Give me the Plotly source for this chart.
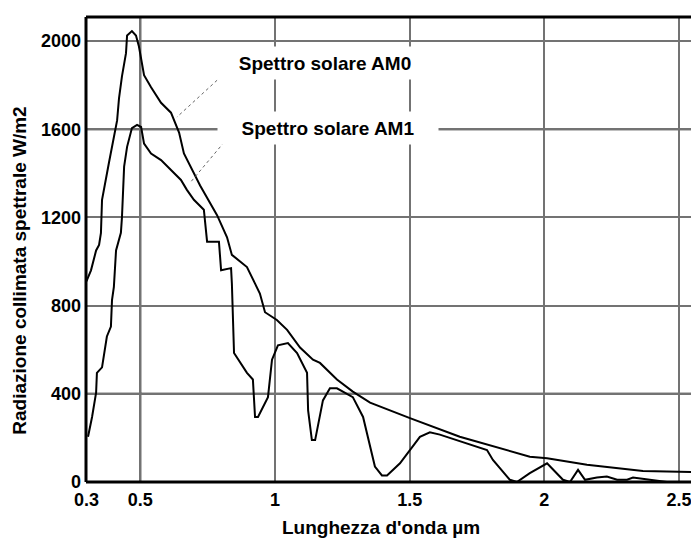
import plotly.graph_objects as go

# ---------------- data ----------------
wl_am0 = [0.300, 0.317, 0.336, 0.347, 0.354, 0.358, 0.384, 0.414, 0.421, 0.432,
          0.447, 0.451, 0.469, 0.484, 0.495, 0.506, 0.514, 0.540, 0.577, 0.614,
          0.644, 0.662, 0.692, 0.722, 0.785, 0.822, 0.840, 0.896, 0.944, 0.963,
          1.007, 1.045, 1.093, 1.141, 1.167, 1.230, 1.289, 1.353, 1.501, 1.686,
          1.946, 2.010, 2.158, 2.281, 2.366, 2.578]
am0 = [910, 960, 1050, 1075, 1130, 1280, 1450, 1640, 1740, 1840,
       1945, 2025, 2045, 2025, 1975, 1900, 1845, 1790, 1720, 1675,
       1585, 1490, 1415, 1345, 1210, 1110, 1030, 975, 855, 770,
       735, 690, 610, 555, 540, 465, 410, 360, 290, 205,
       115, 108, 78, 63, 50, 45]

wl_am1 = [0.306, 0.321, 0.336, 0.339, 0.358, 0.376, 0.391, 0.395, 0.402, 0.410,
          0.428, 0.432, 0.440, 0.451, 0.469, 0.488, 0.503, 0.514, 0.540, 0.577,
          0.614, 0.651, 0.673, 0.699, 0.736, 0.748, 0.792, 0.800, 0.837, 0.840,
          0.848, 0.896, 0.918, 0.926, 0.937, 0.974, 0.989, 1.011, 1.048, 1.082,
          1.119, 1.123, 1.137, 1.149, 1.178, 1.204, 1.230, 1.289, 1.327, 1.353,
          1.371, 1.397, 1.416, 1.464, 1.512, 1.538, 1.575, 1.612, 1.787, 1.809,
          1.872, 1.898, 1.946, 2.010, 2.069, 2.095, 2.125, 2.151, 2.195, 2.232,
          2.270, 2.307, 2.329, 2.403, 2.455, 2.578]
am1 = [205, 295, 405, 495, 520, 660, 705, 825, 885, 1050,
       1130, 1200, 1430, 1520, 1605, 1620, 1610, 1535, 1490, 1460,
       1415, 1370, 1325, 1280, 1235, 1090, 1090, 960, 970, 900,
       585, 495, 465, 295, 295, 385, 555, 620, 630, 585,
       495, 325, 190, 190, 370, 425, 425, 385, 295, 160,
       70, 30, 30, 85, 160, 205, 225, 215, 145, 100,
       10, 0, 40, 85, 10, 0, 55, 10, 20, 25,
       10, 10, 20, 10, 0, 0]

x_ticks = [0.3, 0.5, 1, 1.5, 2, 2.5]
x_tick_labels = ["0.3", "0.5", "1", "1.5", "2", "2.5"]
y_ticks = [0, 400, 800, 1200, 1600, 2000]
y_tick_labels = ["0", "400", "800", "1200", "1600", "2000"]
x_strong = [0.5]          # darker vertical grid lines
y_strong = [400, 1600]    # darker horizontal grid lines

labels = ["Spettro solare AM0", "Spettro solare AM1"]
label_pos = [(1.186, 1900), (1.197, 1605)]
leader_from = [(0.818, 1859), (0.840, 1583)]
leader_to = [(0.636, 1655), (0.684, 1356)]

x_title = "Lunghezza d'onda µm"
y_title = "Radiazione collimata spettrale W/m2"

FONT = "Liberation Sans, Arial, sans-serif"

# ---------------- figure ----------------
fig = go.Figure()
fig.add_trace(go.Scatter(x=wl_am0, y=am0, mode="lines",
                         line=dict(color="black", width=2), showlegend=False))
fig.add_trace(go.Scatter(x=wl_am1, y=am1, mode="lines",
                         line=dict(color="black", width=2), showlegend=False))

shapes = []
for xv in x_strong:
    shapes.append(dict(type="line", xref="x", yref="paper", x0=xv, x1=xv, y0=0, y1=1,
                       line=dict(color="black", width=2), layer="between"))
for yv in y_strong:
    shapes.append(dict(type="line", xref="paper", yref="y", x0=0, x1=1, y0=yv, y1=yv,
                       line=dict(color="black", width=2), layer="between"))
# frame: left, top, bottom
for (x0, y0, x1, y1) in [(0, 0, 0, 1), (0, 1, 1, 1), (0, 0, 1, 0)]:
    shapes.append(dict(type="line", xref="paper", yref="paper", x0=x0, y0=y0, x1=x1, y1=y1,
                       line=dict(color="black", width=3), layer="above"))
for (a, b) in zip(leader_from, leader_to):
    shapes.append(dict(type="line", xref="x", yref="y", x0=a[0], y0=a[1], x1=b[0], y1=b[1],
                       line=dict(color="#666666", width=1, dash="dot"), layer="above"))

annotations = []
for txt, (xv, yv) in zip(labels, label_pos):
    annotations.append(dict(x=xv, y=yv, xref="x", yref="y", text=txt, showarrow=False,
                            xanchor="center", yanchor="middle", width=218, height=30,
                            bgcolor="white",
                            font=dict(family=FONT, size=19, color="black", weight="bold")))
annotations.append(dict(x=0.481, y=-0.097, xref="paper", yref="paper", text=x_title,
                        showarrow=False, xanchor="center", yanchor="middle",
                        font=dict(family=FONT, size=19, color="black", weight="bold")))
annotations.append(dict(x=-0.108, y=0.454, xref="paper", yref="paper", text=y_title,
                        showarrow=False, xanchor="center", yanchor="middle", textangle=-90,
                        font=dict(family=FONT, size=19, color="black", weight="bold")))

# The page body has an 8px default margin: the figure is sized and offset for it
fig.update_layout(
    width=691, height=530, autosize=False,
    margin=dict(l=78, r=0, t=9, b=56, autoexpand=False),
    paper_bgcolor="white", plot_bgcolor="white",
    shapes=shapes, annotations=annotations,
    xaxis=dict(range=[0.2985, 2.574], tickvals=x_ticks, ticktext=x_tick_labels,
               showgrid=True, gridcolor="#737373", gridwidth=1.5, zeroline=False,
               showline=False, ticks="", ticklabelstandoff=5, automargin=False,
               tickfont=dict(family=FONT, size=18, color="black", weight="bold")),
    yaxis=dict(range=[0, 2109], tickvals=y_ticks, ticktext=y_tick_labels,
               showgrid=True, gridcolor="#737373", gridwidth=1.5, zeroline=False,
               showline=False, ticks="", ticklabelstandoff=4, automargin=False,
               tickfont=dict(family=FONT, size=18, color="black", weight="bold")),
)

fig.write_html("out.html")
